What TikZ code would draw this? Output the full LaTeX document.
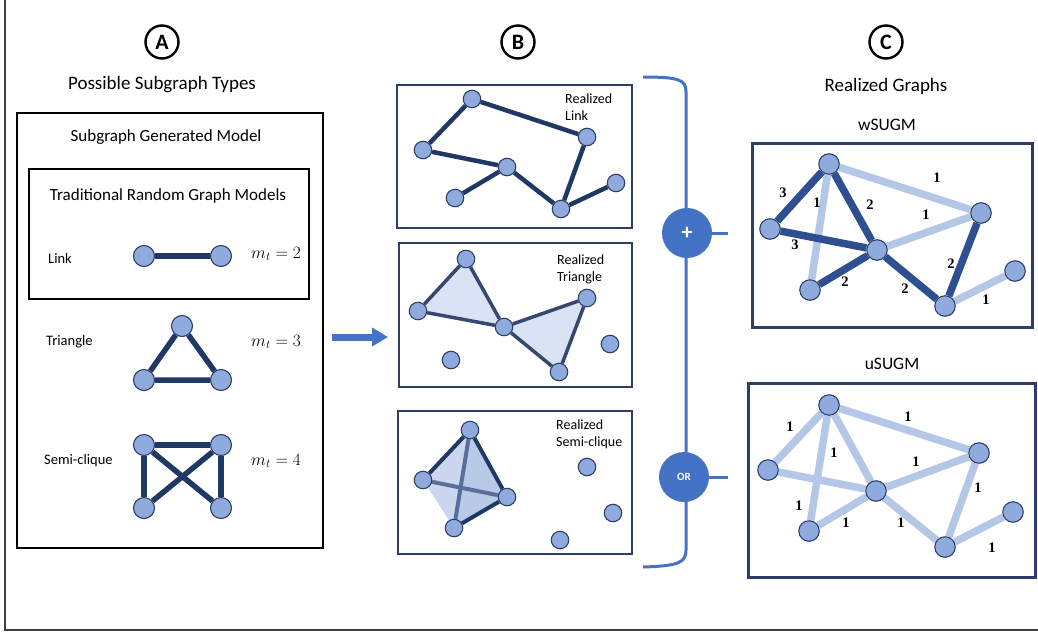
\documentclass[tikz,border=0pt]{standalone}
\usepackage{fontspec}
\setmainfont{Carlito}
\newfontfamily\wfont{Liberation Serif}
\usetikzlibrary{arrows.meta,backgrounds}
\definecolor{nfill}{HTML}{8FAADC}
\definecolor{nborder}{HTML}{2F3F6A}
\definecolor{navy}{HTML}{203864}
\definecolor{bblue}{HTML}{4472C4}
\definecolor{dedge}{HTML}{2F5090}
\definecolor{ledge}{HTML}{B4C7E7}
\definecolor{boxline}{HTML}{2F3D66}
\definecolor{framec}{HTML}{404040}
\definecolor{trifill}{HTML}{DAE3F3}
\definecolor{sqfillA}{HTML}{CAD7EE}
\definecolor{sqfillB}{HTML}{B9CAE8}
\definecolor{medge}{HTML}{5A6E9C}
\definecolor{tedge}{HTML}{36486F}
\tikzset{
  vert/.style={circle, inner sep=0pt, minimum size=21pt, fill=nfill, draw=nborder, line width=1.1pt},
  vb/.style={vert, minimum size=17.5pt},
  vc/.style={vert, minimum size=20.5pt},
  aedge/.style={draw=navy, line width=5.5pt},
  bedge/.style={draw=navy, line width=4.5pt},
  tedgest/.style={draw=tedge, line width=3.5pt},
  sdark/.style={draw=navy, line width=4pt},
  smid/.style={draw=medge, line width=4pt},
  cdark/.style={draw=dedge, line width=7.5pt},
  clight/.style={draw=ledge, line width=7.5pt},
  wlab/.style={font={\wfont\bfseries\fontsize{14.5}{15}\selectfont}, inner sep=0pt},
  lettercirc/.style={circle, draw=black, line width=2.4pt, minimum size=33pt, inner sep=0pt, font=\bfseries\fontsize{22}{22}\selectfont},
  opcirc/.style={circle, fill=bblue, minimum size=50pt, inner sep=0pt, text=white},
  bbox/.style={draw=boxline, line width=2pt},
  cbox/.style={draw=boxline, line width=3pt},
  blab/.style={anchor=west, align=left, inner sep=0pt, font=\fontsize{14}{17}\selectfont},
  alab/.style={anchor=west, inner sep=0pt, font=\fontsize{14.5}{17}\selectfont},
  mlab/.style={anchor=west, inner sep=0pt, font=\fontsize{16.5}{18}\selectfont},
}
\begin{document}
\begin{tikzpicture}[x=1pt,y=-1pt]
\useasboundingbox (0,0) rectangle (1038,635);
% outer frame
\draw[framec, line width=1.5pt] (5,0) -- (5,630) -- (1038,630);

% ---------------- Panel A ----------------
\node[lettercirc] (cA) at (162,42) {A};
\node[font=\fontsize{19}{22}\selectfont] (tA) at (162,85) {Possible Subgraph Types};
\draw[black, line width=2pt] (17,113) rectangle (323,548);
\node[font=\fontsize{17}{20}\selectfont] (tsgm) at (166,137) {Subgraph Generated Model};
\draw[black, line width=1.8pt] (29,169) rectangle (309,299);
\node[font=\fontsize{17}{20}\selectfont] (ttrgm) at (168,196) {Traditional Random Graph Models};

\node[alab] (llink) at (48,258) {Link};
\node[vert] (l1) at (144,256) {};
\node[vert] (l2) at (221,256) {};
\node[mlab] (m2) at (251,254) {$m_t = 2$};

\node[alab] (ltri) at (46,342) {Triangle};
\node[vert] (r1) at (182,326) {};
\node[vert] (r2) at (144,380) {};
\node[vert] (r3) at (221,380) {};
\node[mlab] (m3) at (251,342) {$m_t = 3$};

\node[alab] (lsemi) at (44,461) {Semi-clique};
\node[vert] (q1) at (144,445) {};
\node[vert] (q2) at (221,445) {};
\node[vert] (q3) at (144,508) {};
\node[vert] (q4) at (221,508) {};
\node[mlab] (m4) at (251,461) {$m_t = 4$};

\begin{scope}[on background layer]
\draw[aedge] (l1) -- (l2);
\draw[aedge] (r1) -- (r2) -- (r3) -- (r1);
\draw[aedge] (q1) -- (q2);
\draw[aedge] (q1) -- (q3);
\draw[aedge] (q2) -- (q4);
\draw[aedge] (q1) -- (q4);
\draw[aedge] (q2) -- (q3);
\end{scope}

% arrow
\coordinate (arS) at (332,337);
\coordinate (arE) at (388,337);
\draw[bblue, line width=7pt, -{Triangle[length=16pt,width=18pt]}] (arS) -- (arE);

% ---------------- Panel B ----------------
\node[lettercirc] (cB) at (518,42) {B};

% box 1
\draw[bbox] (397,85) rectangle (632,228);
\node[blab] (tlink) at (565,107) {Realized\\Link};
\node[vb] (n1) at (472,99) {};
\node[vb] (n2) at (423,150) {};
\node[vb] (n3) at (507,167) {};
\node[vb] (n4) at (455,198) {};
\node[vb] (n5) at (587,137) {};
\node[vb] (n6) at (561,209) {};
\node[vb] (n7) at (616,183) {};
\begin{scope}[on background layer]
\draw[bedge] (n1) -- (n2);
\draw[bedge] (n1) -- (n5);
\draw[bedge] (n2) -- (n3);
\draw[bedge] (n3) -- (n4);
\draw[bedge] (n3) -- (n6);
\draw[bedge] (n5) -- (n6);
\draw[bedge] (n6) -- (n7);
\end{scope}

% box 2
\draw[bbox] (399,243) rectangle (632,387);
\node[blab] (ttri) at (557,269) {Realized\\Triangle};
\node[vb] (t1) at (466,259) {};
\node[vb] (t2) at (418,311) {};
\node[vb] (t3) at (504,327) {};
\node[vb] (t4) at (587,298) {};
\node[vb] (t5) at (559,372) {};
\node[vb] (t6) at (451,360) {};
\node[vb] (t7) at (610,344) {};
\begin{scope}[on background layer]
\fill[trifill] (t1.center) -- (t2.center) -- (t3.center) -- cycle;
\fill[trifill] (t3.center) -- (t4.center) -- (t5.center) -- cycle;
\draw[tedgest] (t1) -- (t2);
\draw[tedgest] (t2) -- (t3);
\draw[tedgest] (t3) -- (t1);
\draw[tedgest] (t3) -- (t4);
\draw[tedgest] (t4) -- (t5);
\draw[tedgest] (t5) -- (t3);
\end{scope}

% box 3
\draw[bbox] (398,411) rectangle (632,554);
\node[blab] (tsemi) at (556,434) {Realized\\Semi-clique};
\node[vb] (s1) at (470,430) {};
\node[vb] (s2) at (423,480) {};
\node[vb] (s3) at (507,497) {};
\node[vb] (s4) at (454,528) {};
\node[vb] (s5) at (587,467) {};
\node[vb] (s6) at (613,513) {};
\node[vb] (s7) at (560,540) {};
\begin{scope}[on background layer]
\fill[sqfillA] (s1.center) -- (s2.center) -- (s4.center) -- cycle;
\fill[sqfillB] (s1.center) -- (s3.center) -- (s4.center) -- cycle;
\draw[smid] (s1) -- (s4);
\draw[smid] (s2) -- (s3);
\draw[sdark] (s1) -- (s2);
\draw[sdark] (s1) -- (s3);
\draw[sdark] (s3) -- (s4);
\end{scope}

% bracket
\draw[bblue, line width=3pt] (643,77) .. controls (680,77) and (686,80) .. (686,92) -- (686,550) .. controls (686,562) and (680,566) .. (643,567);
\node[opcirc, font=\bfseries\fontsize{22}{22}\selectfont] (plus) at (687,233) {+};
\node[opcirc, font=\bfseries\fontsize{11}{11}\selectfont] (orc) at (684,477) {OR};
\coordinate (plusE) at (728,233);
\coordinate (orE) at (728,477);
\draw[bblue, line width=3pt] (plus.east) -- (plusE);
\draw[bblue, line width=3pt] (orc.east) -- (orE);

% ---------------- Panel C ----------------
\node[lettercirc] (cC) at (886,42) {C};
\node[font=\fontsize{19}{22}\selectfont] (tC) at (886,86) {Realized Graphs};
\node[font=\fontsize{17.5}{20}\selectfont] (tw) at (887,125) {wSUGM};
\draw[cbox] (752,143) rectangle (1032,327);
\node[vc] (w1) at (829,164) {};
\node[vc] (w2) at (770,229) {};
\node[vc] (w3) at (877,250) {};
\node[vc] (w4) at (810,290) {};
\node[vc] (w5) at (981,213) {};
\node[vc] (w6) at (945,306) {};
\node[vc] (w7) at (1015,271) {};
\begin{scope}[on background layer]
\draw[clight] (w1) -- (w4);
\draw[clight] (w1) -- (w5);
\draw[clight] (w3) -- (w5);
\draw[clight] (w6) -- (w7);
\draw[cdark] (w1) -- (w2);
\draw[cdark] (w1) -- (w3);
\draw[cdark] (w2) -- (w3);
\draw[cdark] (w3) -- (w4);
\draw[cdark] (w3) -- (w6);
\draw[cdark] (w5) -- (w6);
\end{scope}
\node[wlab] (wl1) at (783,193) {3};
\node[wlab] (wl2) at (817,203) {1};
\node[wlab] (wl3) at (870,205) {2};
\node[wlab] (wl4) at (937,178) {1};
\node[wlab] (wl5) at (795,245) {3};
\node[wlab] (wl6) at (926,215) {1};
\node[wlab] (wl7) at (845,282) {2};
\node[wlab] (wl8) at (905,289) {2};
\node[wlab] (wl9) at (951,264) {2};
\node[wlab] (wl10) at (986,300) {1};

\node[font=\fontsize{17.5}{20}\selectfont] (tu) at (892,364) {uSUGM};
\draw[cbox] (748,383) rectangle (1035,577);
\node[vc] (u1) at (829,405) {};
\node[vc] (u2) at (768,470) {};
\node[vc] (u3) at (876,491) {};
\node[vc] (u4) at (809,531) {};
\node[vc] (u5) at (979,453) {};
\node[vc] (u6) at (945,547) {};
\node[vc] (u7) at (1013,512) {};
\begin{scope}[on background layer]
\draw[clight] (u1) -- (u2);
\draw[clight] (u1) -- (u4);
\draw[clight] (u1) -- (u3);
\draw[clight] (u1) -- (u5);
\draw[clight] (u2) -- (u3);
\draw[clight] (u3) -- (u5);
\draw[clight] (u3) -- (u4);
\draw[clight] (u3) -- (u6);
\draw[clight] (u5) -- (u6);
\draw[clight] (u6) -- (u7);
\end{scope}
\node[wlab] (ul1) at (790,427) {1};
\node[wlab] (ul2) at (834,453) {1};
\node[wlab] (ul3) at (908,417) {1};
\node[wlab] (ul4) at (916,462) {1};
\node[wlab] (ul5) at (978,488) {1};
\node[wlab] (ul6) at (799,506) {1};
\node[wlab] (ul7) at (846,523) {1};
\node[wlab] (ul8) at (901,523) {1};
\node[wlab] (ul9) at (992,548) {1};
\end{tikzpicture}
\end{document}
